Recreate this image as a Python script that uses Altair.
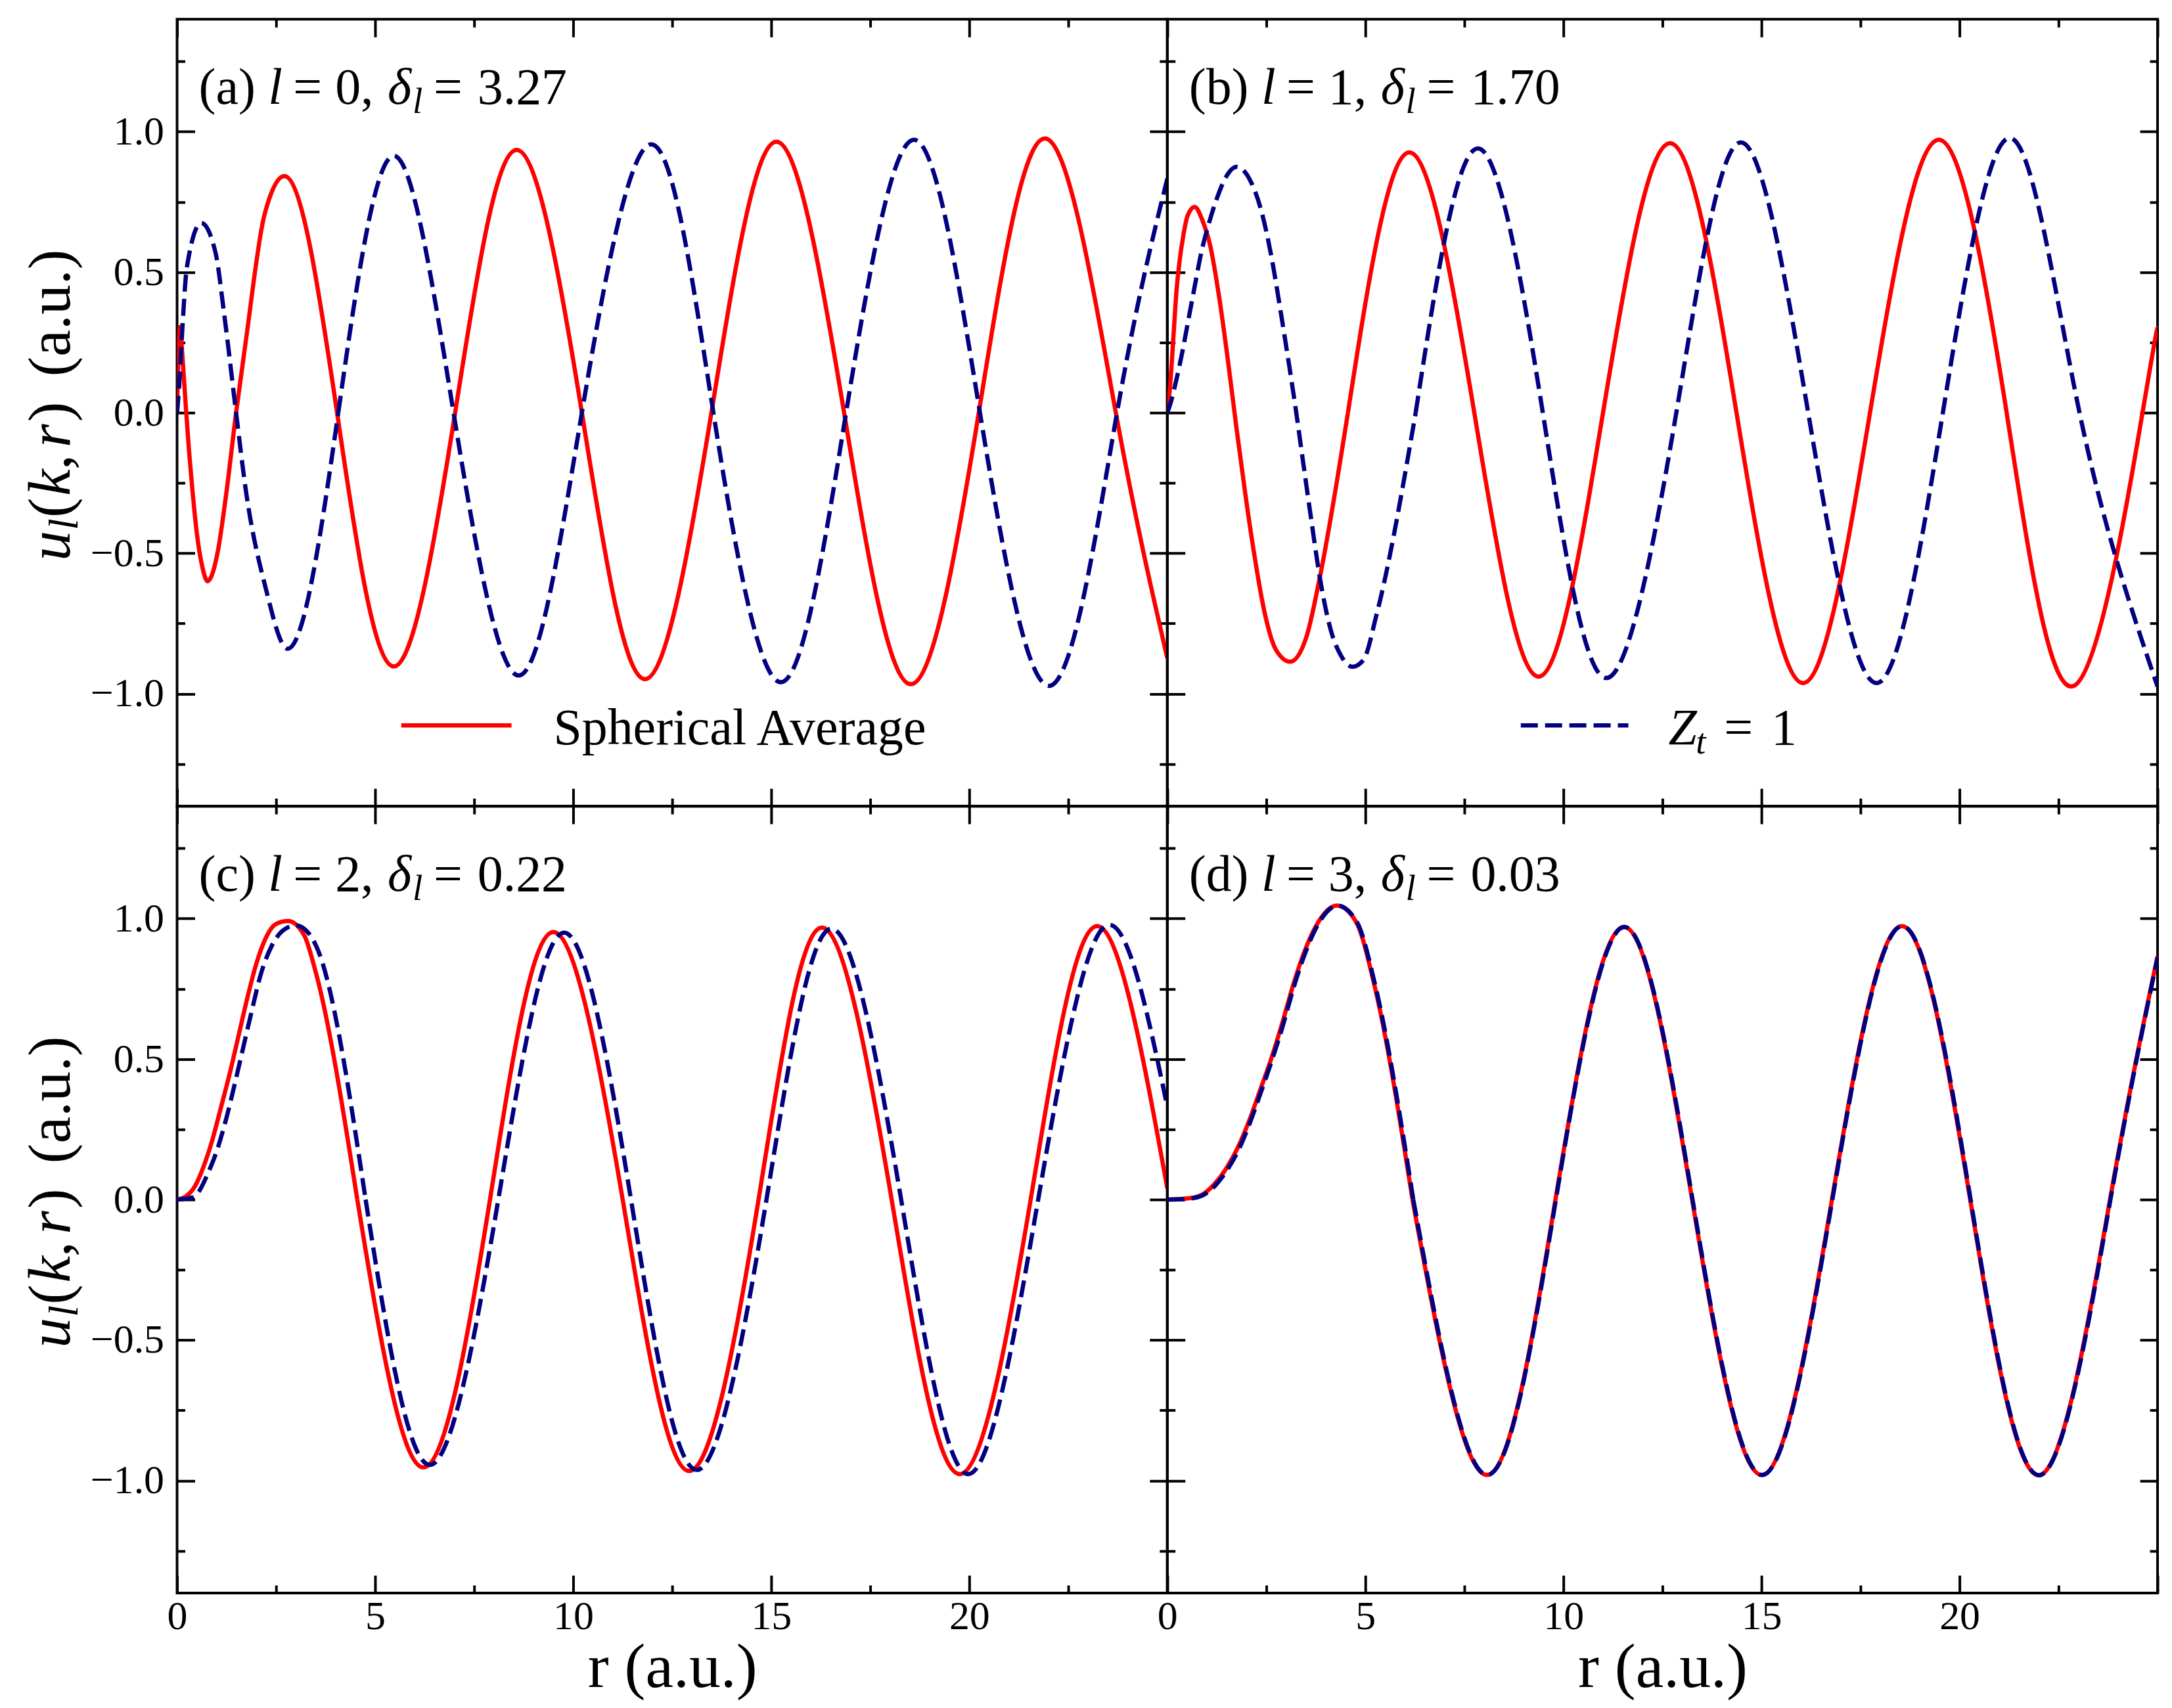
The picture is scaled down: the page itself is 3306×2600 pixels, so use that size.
import altair as alt
import pandas as pd

FONT = "Liberation Serif"
RED = "#ff0000"
NAVY = "#000080"
W, H = 1510, 1200

# ---------------- data ----------------
# panel (a) l = 0
r_sa_a = [0, 0.072, 0.138, 0.22, 0.30, 0.386, 0.50, 0.635, 0.77, 1.02, 1.24, 1.49, 1.74, 2.2, 2.71,
          4.04, 5.47, 7.02, 8.57, 10.22, 11.81, 13.49, 15.13, 16.84, 18.52, 20.24, 21.95, 23.70, 25.0]
u_sa_a = [0, 0.305, 0.195, 0.023, -0.133, -0.273, -0.43, -0.547, -0.60, -0.50, -0.29, 0.0, 0.26, 0.70, 0.842,
          0, -0.903, 0, 0.935, 0, -0.948, 0, 0.964, 0, -0.966, 0, 0.975, 0, -0.873]
r_zt_a = [0, 0.055, 0.138, 0.25, 0.61, 0.97, 1.19, 1.49, 1.74, 2.23, 2.79, 4.07, 5.47, 6.98, 8.62,
          10.22, 11.97, 13.54, 15.24, 16.89, 18.6, 20.27, 22.06, 23.73, 25.0]
u_zt_a = [0, 0.10, 0.31, 0.52, 0.675, 0.57, 0.35, 0.0, -0.28, -0.62, -0.84, 0, 0.914, 0, -0.935,
          0, 0.955, 0, -0.959, 0, 0.971, 0, -0.971, 0, 0.833]

# panel (b) l = 1
r_sa_b = [0, 0.066, 0.15, 0.23, 0.31, 0.40, 0.51, 0.69, 0.89, 1.09, 1.31, 1.53, 1.75, 1.97, 2.19,
          2.47, 2.74, 3.10, 3.52, 3.85, 4.56, 6.11, 7.75, 9.37, 11.0, 12.69, 14.37, 16.05,
          17.74, 19.47, 21.19, 22.9, 24.62, 25.0]
u_sa_b = [0, 0.088, 0.26, 0.43, 0.54, 0.627, 0.70, 0.732, 0.683, 0.59, 0.41, 0.186, -0.059, -0.29, -0.50,
          -0.72, -0.843, -0.886, -0.794, -0.586, 0, 0.926, 0, -0.939, 0, 0.959, 0, -0.962,
          0, 0.971, 0, -0.971, 0, 0.30]
r_zt_b = [0, 0.094, 0.2, 0.37, 0.535, 0.70, 0.87, 1.03, 1.25, 1.47, 1.75, 2.08, 2.36, 2.63, 2.85,
          3.07, 3.24, 3.41, 3.63, 3.85, 4.12, 4.40, 4.67, 4.95, 5.28, 6.27, 7.84, 9.48, 11.08, 12.85,
          14.48, 16.18, 17.9, 19.58, 21.3, 23.03, 25.0]
u_zt_b = [0, 0.04, 0.10, 0.21, 0.333, 0.456, 0.578, 0.664, 0.762, 0.836, 0.875, 0.83, 0.725, 0.554, 0.37,
          0.174, 0.015, -0.157, -0.377, -0.586, -0.77, -0.868, -0.904, -0.88, -0.72, 0, 0.94, 0, -0.944, 0,
          0.962, 0, -0.962, 0, 0.977, 0, -0.975]

# panel (c) l = 2
r_sa_c = [0, 0.23, 0.45, 0.67, 0.89, 1.11, 1.34, 1.56, 1.78, 2.0, 2.22, 2.49, 2.80, 3.21, 3.49,
          4.55, 6.22, 7.9, 9.5, 11.25, 12.93, 14.68, 16.28, 18.04, 19.76, 21.55, 23.22, 25.0]
u_sa_c = [0, 0.012, 0.047, 0.118, 0.212, 0.329, 0.455, 0.588, 0.721, 0.839, 0.925, 0.98, 0.991, 0.94, 0.815,
          0, -0.953, 0, 0.952, 0, -0.966, 0, 0.968, 0, -0.977, 0, 0.973, 0.04]
r_zt_c = [0, 0.40, 0.56, 0.78, 1.0, 1.23, 1.45, 1.67, 1.89, 2.11, 2.38, 2.66, 2.99, 3.32, 3.52,
          4.76, 6.38, 8.11, 9.77, 11.46, 13.12, 14.88, 16.52, 18.28, 19.98, 21.74, 23.43, 25.0]
u_zt_c = [0, 0.008, 0.031, 0.094, 0.172, 0.282, 0.408, 0.541, 0.674, 0.80, 0.90, 0.956, 0.976, 0.948, 0.90,
          0, -0.944, 0, 0.95, 0, -0.962, 0, 0.964, 0, -0.977, 0, 0.973, 0.33]

# panel (d) l = 3
r_sa_d = [0, 0.52, 0.86, 1.19, 1.52, 1.79, 2.07, 2.35, 2.62, 2.90, 3.17, 3.45, 3.78, 4.28, 4.77, 5.22,
          6.19, 8.07, 9.8, 11.53, 13.25, 15.01, 16.78, 18.54, 20.27, 22.04, 23.8, 25.0]
u_sa_d = [0, 0.004, 0.016, 0.055, 0.118, 0.188, 0.282, 0.392, 0.50, 0.627, 0.76, 0.878, 0.98, 1.046, 0.987, 0.768,
          0, -0.98, 0, 0.97, 0, -0.98, 0, 0.973, 0, -0.98, 0, 0.866]
r_zt_d = [0, 0.54, 0.88, 1.21, 1.54, 1.81, 2.09, 2.37, 2.64, 2.92, 3.19, 3.47, 3.80, 4.30, 4.79, 5.24,
          6.21, 8.08, 9.81, 11.54, 13.26, 15.02, 16.79, 18.55, 20.28, 22.05, 23.81, 25.0]
u_zt_d = [0, 0.003, 0.014, 0.05, 0.112, 0.18, 0.275, 0.385, 0.495, 0.62, 0.755, 0.873, 0.978, 1.046, 0.987, 0.768,
          0, -0.98, 0, 0.97, 0, -0.98, 0, 0.973, 0, -0.98, 0, 0.862]

# index of the first regular zero crossing (start of the evenly spaced part)
split_sa = [15, 20, 15, 16]
split_zt = [11, 25, 15, 16]

panel_tags = ["(a)", "(b)", "(c)", "(d)"]
panel_l = ["0", "1", "2", "3"]
panel_delta = ["3.27", "1.70", "0.22", "0.03"]

x_major = [0, 5, 10, 15, 20]
x_ticks = [0, 2.5, 5, 7.5, 10, 12.5, 15, 17.5, 20, 22.5, 25]
y_major = [-1.0, -0.5, 0.0, 0.5, 1.0]
y_ticks = [-1.25, -1.0, -0.75, -0.5, -0.25, 0.0, 0.25, 0.5, 0.75, 1.0, 1.25]

legend_labels = ["Spherical Average", "Z", "t", "=", "1"]

# ---------------- helpers ----------------
xs = alt.Scale(domain=[0, 25], nice=False, zero=False)
ys = alt.Scale(domain=[-1.4, 1.4], nice=False, zero=False)

x_tsize = {"condition": {"test": "datum.value % 5 === 0", "value": 27}, "value": 12}
y_tsize = {"condition": {"test": "datum.value % 0.5 === 0", "value": 27}, "value": 12}


def tick_axis(orient, offset, vals, size):
    return alt.Axis(orient=orient, offset=offset, values=vals, labels=False, domain=False,
                    ticks=True, tickSize=size, tickWidth=4, tickColor="black",
                    grid=False, title=None)


def xlab_axis():
    return alt.Axis(orient="bottom", values=x_major, labels=True, ticks=False, tickSize=0,
                    domain=False, grid=False, labelFont=FONT, labelFontSize=62,
                    labelColor="black", labelPadding=6, labelFlush=False, labelOverlap=False,
                    title="r (a.u.)", titleFont=FONT, titleFontSize=96,
                    titleFontWeight="normal", titleColor="black", titlePadding=0)


def ylab_axis():
    return alt.Axis(orient="left", values=y_major, format=".1f", labels=True, ticks=False,
                    tickSize=0, domain=False, grid=False, labelFont=FONT, labelFontSize=62,
                    labelColor="black", labelPadding=20, labelFlush=False, labelOverlap=False,
                    title=None)


ONE = pd.DataFrame({"k": [0]})


def seg(text, x, y, size, italic=False, angle=0):
    kw = dict(text=text, font=FONT, fontSize=size, fontStyle="italic" if italic else "normal",
              align="left", baseline="alphabetic", color="black")
    if angle:
        kw["angle"] = angle
    return alt.Chart(ONE).mark_text(**kw).encode(x=alt.value(x), y=alt.value(y))


LETTER_W = {"a": 0.444, "b": 0.5, "c": 0.444, "d": 0.5}


def title_layers(i):
    tag = panel_tags[i]
    fs = 78
    yb = 129
    x0 = 33
    x_l = x0 + (0.333 * 2 + 0.25 + LETTER_W[tag[1]]) * fs
    x_eq = x_l + 38
    x_delta = x_eq + 144
    x_sub = x_delta + 38
    x_eq2 = x_sub + 32
    return [
        seg(tag, x0, yb, fs),
        seg("l", x_l, yb, fs, True),
        seg("=", x_eq, yb, fs),
        seg(panel_l[i] + ",", x_eq + 64, yb, fs),
        seg("\u03b4", x_delta, yb, fs, True),
        seg("l", x_sub, yb + 14, 55, True),
        seg("=", x_eq2, yb, fs),
        seg(panel_delta[i], x_eq2 + 67, yb, fs),
    ]


def ytitle_layers():
    xb = -164
    fs = 92
    return [
        seg("u", xb, 826, fs, True, 270),
        seg("l", xb + 12, 779, 64, True, 270),
        seg("(", xb, 760, fs, False, 270),
        seg("k", xb, 727, fs, True, 270),
        seg(",", xb, 687, fs, False, 270),
        seg("r", xb, 653, fs, True, 270),
        seg(")", xb, 614, fs, False, 270),
        seg("(a.u.)", xb, 545, fs, False, 270),
    ]


series = [
    ((r_sa_a, u_sa_a), (r_zt_a, u_zt_a)),
    ((r_sa_b, u_sa_b), (r_zt_b, u_zt_b)),
    ((r_sa_c, u_sa_c), (r_zt_c, u_zt_c)),
    ((r_sa_d, u_sa_d), (r_zt_d, u_zt_d)),
]


def curve(r, u, k, color, dash, xaxis_a, yaxis_a, xaxis_b, yaxis_b):
    df = pd.DataFrame({"r": r, "u": u})
    head = df.iloc[: k + 1]
    tail = df.iloc[k:]
    props = dict(color=color, strokeWidth=6.5, clip=True)
    if dash:
        props["strokeDash"] = dash
    a = alt.Chart(head).mark_line(interpolate="monotone", **props).encode(
        x=alt.X("r:Q", scale=xs, axis=xaxis_a), y=alt.Y("u:Q", scale=ys, axis=yaxis_a))
    b = alt.Chart(tail).mark_line(interpolate="natural", **props).encode(
        x=alt.X("r:Q", scale=xs, axis=xaxis_b), y=alt.Y("u:Q", scale=ys, axis=yaxis_b))
    return [a, b]


def panel(i):
    (rs, us), (rz, uz) = series[i]
    left = i in (0, 2)
    bottom = i in (2, 3)

    red = curve(rs, us, split_sa[i], RED, None,
                tick_axis("top", -H, x_ticks, x_tsize), tick_axis("right", -W, y_ticks, y_tsize),
                xlab_axis() if bottom else None, ylab_axis() if left else None)
    blue = curve(rz, uz, split_zt[i], NAVY, [26, 11],
                 tick_axis("bottom", -H, x_ticks, x_tsize), tick_axis("left", -W, y_ticks, y_tsize),
                 None, None)
    layers = red + blue + title_layers(i)
    if left:
        layers += ytitle_layers()
    if i == 0:
        layers += [
            alt.Chart(ONE).mark_rule(color=RED, strokeWidth=6.5).encode(
                x=alt.value(342), x2=alt.value(510), y=alt.value(1077)),
            seg(legend_labels[0], 574, 1106, 78),
        ]
    if i == 1:
        layers += [
            alt.Chart(ONE).mark_rule(color=NAVY, strokeWidth=6.5, strokeDash=[26, 11]).encode(
                x=alt.value(539), x2=alt.value(703), y=alt.value(1077)),
            seg(legend_labels[1], 764, 1106, 78, True),
            seg(legend_labels[2], 806, 1120, 55, True),
            seg(legend_labels[3], 849, 1106, 78),
            seg(legend_labels[4], 921, 1106, 78),
        ]
    return alt.layer(*layers).resolve_axis(x="independent", y="independent").properties(
        width=W, height=H)


chart = alt.concat(panel(0), panel(1), panel(2), panel(3), columns=2).properties(
    spacing=0, bounds="flush", background="white",
    padding={"left": 22, "top": 15, "right": 10, "bottom": 10},
).configure_view(stroke="black", strokeWidth=4)

chart.save("out.html", embed_options={"renderer": "svg", "actions": False})
